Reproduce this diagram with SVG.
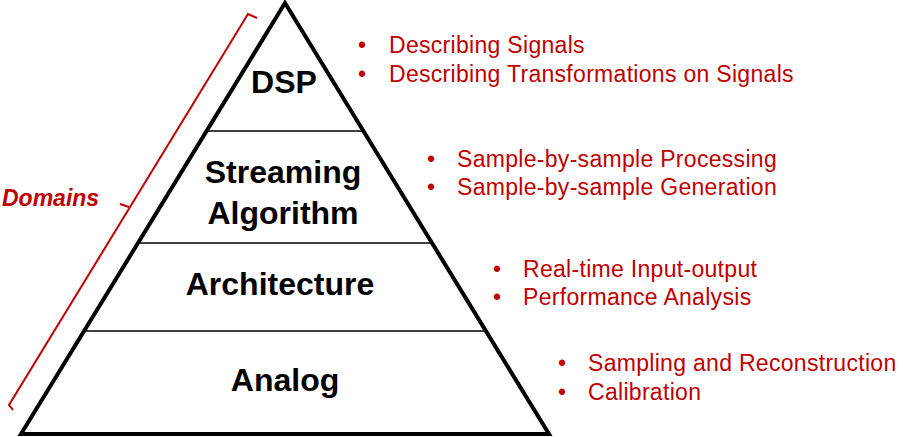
<svg xmlns="http://www.w3.org/2000/svg" width="903" height="437" viewBox="0 0 903 437">
<style>
.lvl{font-family:"Liberation Sans",Arial,sans-serif;font-weight:bold;font-size:32px;fill:#000;text-anchor:middle}
.note{font-family:"Liberation Sans",Arial,sans-serif;font-size:23px;letter-spacing:0.3px;fill:#c00000}
.div{stroke:#000;stroke-width:1.3}
</style>
<rect width="903" height="437" fill="#fff"/>
<g id="pyramid">
<polygon points="285,3 21,434 549,434" fill="#fff" stroke="#000" stroke-width="4" stroke-linejoin="miter"/>
<line class="div" x1="206" y1="131" x2="364" y2="131"/>
<line class="div" x1="138" y1="243" x2="432" y2="243"/>
<line class="div" x1="85" y1="331" x2="485" y2="331"/>
</g>
<g id="dsp"><text class="lvl" x="284" y="93">DSP</text></g>
<g id="streaming"><text class="lvl" x="283" y="183">Streaming</text><text class="lvl" x="283" y="224">Algorithm</text></g>
<g id="architecture"><text class="lvl" x="280" y="295">Architecture</text></g>
<g id="analog"><text class="lvl" x="285" y="391">Analog</text></g>
<g id="domains">
<path d="M257,18 L248,14 L9,405 L13,410" fill="none" stroke="#c00000" stroke-width="2"/>
<path d="M129,207 L120,204" fill="none" stroke="#c00000" stroke-width="2"/>
<text x="2" y="206" font-family="Liberation Sans,Arial,sans-serif" font-weight="bold" font-style="italic" font-size="23" fill="#c00000">Domains</text>
</g>
<g id="notes-dsp"><text class="note" x="358" y="53">•</text><text class="note" x="389" y="53">Describing Signals</text>
<text class="note" x="358" y="82">•</text><text class="note" x="389" y="82">Describing Transformations on Signals</text></g>
<g id="notes-streaming"><text class="note" x="427" y="167">•</text><text class="note" x="457" y="167">Sample-by-sample Processing</text>
<text class="note" x="427" y="195">•</text><text class="note" x="457" y="195">Sample-by-sample Generation</text></g>
<g id="notes-arch"><text class="note" x="493" y="277">•</text><text class="note" x="523" y="277">Real-time Input-output</text>
<text class="note" x="493" y="305">•</text><text class="note" x="523" y="305">Performance Analysis</text></g>
<g id="notes-analog"><text class="note" x="558" y="371">•</text><text class="note" x="588" y="371">Sampling and Reconstruction</text>
<text class="note" x="558" y="400">•</text><text class="note" x="588" y="400">Calibration</text></g>
</svg>
